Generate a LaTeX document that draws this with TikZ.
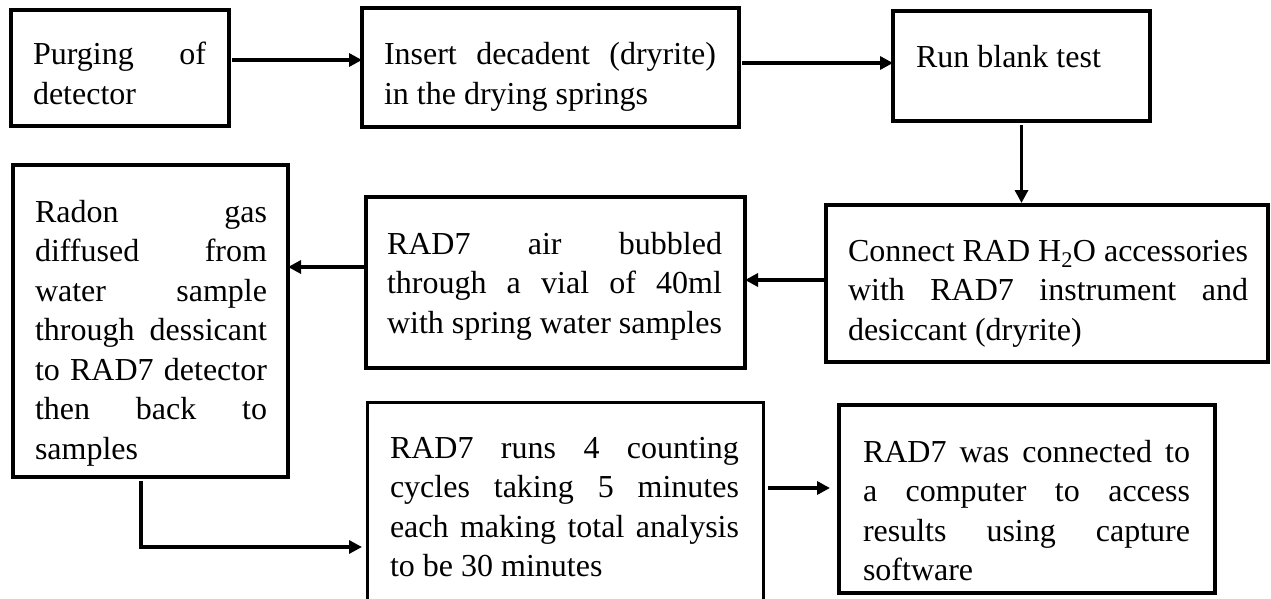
\documentclass[tikz,border=0pt]{standalone}
\usepackage{fontspec}
\setmainfont{Liberation Serif}
\usetikzlibrary{arrows.meta}
\newcommand\boxfont{\fontsize{32pt}{39.5pt}\selectfont}
\newcommand\jl[1]{\makebox[\linewidth][s]{\strut #1}}
\newcommand\lastl[1]{\strut #1}
\begin{document}
\begin{tikzpicture}[x=1pt,y=-1pt,
  box/.style={draw, line width=3.5pt, inner sep=0pt, outer sep=0pt, anchor=north west},
  txt/.style={inner sep=0pt, outer sep=0pt, anchor=base west},
  arr/.style={line width=3.5pt, -{Triangle[length=13pt,width=13pt]}}]
\useasboundingbox (0,0) rectangle (1271,599);
\clip (0,0) rectangle (1271,599);
% boxes
\node[box, minimum width=218pt, minimum height=116pt] (A) at (11,10) {};
\node[box, minimum width=377pt, minimum height=119pt] (B) at (362,8) {};
\node[box, minimum width=257pt, minimum height=110pt] (C) at (893,11) {};
\node[box, minimum width=442pt, minimum height=157pt] (D) at (826,205) {};
\node[box, minimum width=379pt, minimum height=171pt] (E) at (366,197) {};
\node[box, minimum width=275pt, minimum height=312pt] (F) at (13,165) {};
\node[box, line width=3pt, minimum width=396pt, minimum height=238pt] (G) at (367,402) {};
\node[box, minimum width=376pt, minimum height=188pt] (H) at (839,405) {};
% texts
\node[txt] (At) at (33,65) {\parbox[t]{173pt}{\boxfont\jl{Purging of}\\\lastl{detector}}};
\node[txt] (Bt) at (384,65) {\parbox[t]{332pt}{\boxfont\jl{Insert decadent (dryrite)}\\\lastl{in the drying springs}}};
\node[txt] (Ct) at (916,68) {\parbox[t]{220pt}{\boxfont\lastl{Run blank test}}};
\node[txt] (Dt) at (848,261) {\parbox[t]{400pt}{\boxfont\jl{Connect RAD H\textsubscript{2}O accessories}\\\jl{with RAD7 instrument and}\\\lastl{desiccant (dryrite)}}};
\node[txt] (Et) at (387,254) {\parbox[t]{335pt}{\boxfont\jl{RAD7 air bubbled}\\\jl{through a vial of 40ml}\\\lastl{with spring water samples}}};
\node[txt] (Ft) at (35,222) {\parbox[t]{232pt}{\boxfont\jl{Radon gas}\\\jl{diffused from}\\\jl{water sample}\\\jl{through dessicant}\\\jl{to RAD7 detector}\\\jl{then back to}\\\lastl{samples}}};
\node[txt] (Gt) at (390,458) {\parbox[t]{349pt}{\boxfont\jl{RAD7 runs 4 counting}\\\jl{cycles taking 5 minutes}\\\jl{each making total analysis}\\\lastl{to be 30 minutes}}};
\node[txt] (Ht) at (863,462) {\parbox[t]{327pt}{\boxfont\jl{RAD7 was connected to}\\\jl{a computer to access}\\\jl{results using capture}\\\lastl{software}}};
% connectors
\draw[arr, shorten <=3pt] ([yshift=8pt]A.east) -- ([yshift=8pt]A.east -| B.west);
\draw[arr, shorten <=3pt] ([yshift=4.5pt]B.east) -- ([yshift=4.5pt]B.east -| C.west);
\draw[arr, shorten <=4pt, shorten >=2pt] (C.south) -- (C.south |- D.north);
\draw[arr] ([yshift=3.5pt]D.west) -- ([yshift=3.5pt]D.west -| E.east);
\draw[arr] ([yshift=15.5pt]E.west) -- ([yshift=15.5pt]E.west -| F.east);
\draw[arr, line width=3.2pt, shorten <=4pt, shorten >=5pt] ([xshift=-9.5pt]F.south) |- ([yshift=-26pt]G.west);
\draw[arr, shorten <=5pt, shorten >=9pt] ([yshift=33pt]G.east) -- ([yshift=33pt]G.east -| H.west);
\end{tikzpicture}
\end{document}
